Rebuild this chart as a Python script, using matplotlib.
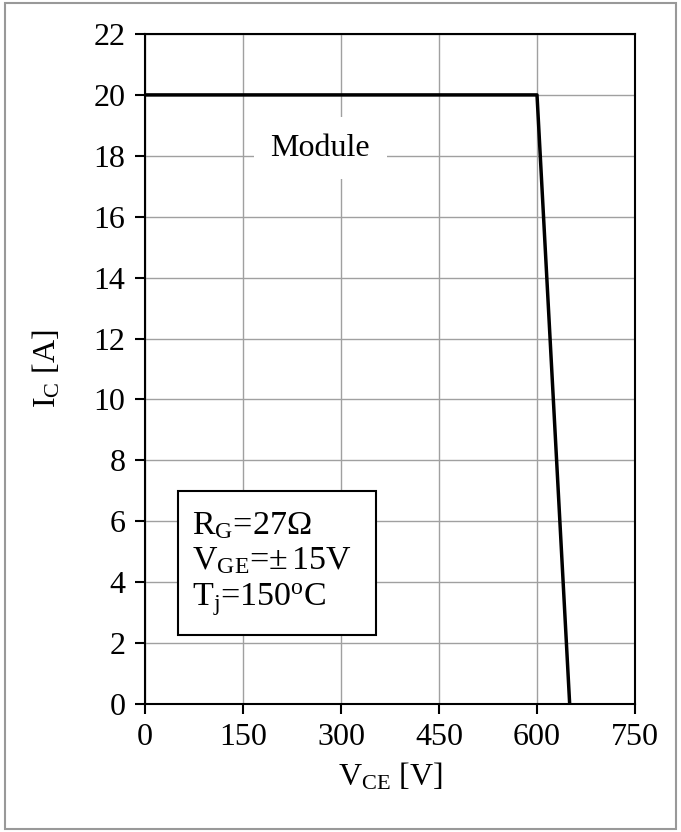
import matplotlib.pyplot as plt
from matplotlib.patches import Rectangle

plt.rcParams['font.family'] = ['Liberation Serif', 'DejaVu Serif']
plt.rcParams['mathtext.fontset'] = 'custom'
plt.rcParams['mathtext.rm'] = 'Liberation Serif'
plt.rcParams['mathtext.it'] = 'Liberation Serif:italic'

# RBSOA curve
vce = [0, 600, 650]
ic = [20, 20, 0]
xticks = [0, 150, 300, 450, 600, 750]
yticks = list(range(0, 23, 2))

fig = plt.figure(figsize=(6.81, 8.32), dpi=100)
ax = fig.add_axes([145 / 681, 1 - 704 / 832, 490 / 681, 670 / 832])

ax.plot(vce, ic, color='black', lw=2.5, zorder=3)
ax.set_xlim(0, 750)
ax.set_ylim(0, 22)
ax.set_xticks(xticks)
ax.set_yticks(yticks)
ax.grid(True, color='#a0a0a0', lw=1)
ax.set_axisbelow(True)
for s in ax.spines.values():
    s.set_linewidth(1.5)
ax.tick_params(labelsize=23, length=7, width=1.5, direction='out', pad=7)

ax.set_xlabel(r'V$_\mathrm{CE}$ [V]', fontsize=23, labelpad=6)
ax.set_ylabel(r'I$_\mathrm{C}$ [A]', fontsize=23, labelpad=22)

ax.text(268, 18.25, 'Module', fontsize=23, ha='center', va='center',
        bbox=dict(facecolor='white', edgecolor='none', pad=12), zorder=4)

ax.add_patch(Rectangle((50, 2.25), 303, 4.73, facecolor='white', edgecolor='black', lw=1.5, zorder=4))
ax.text(72, 4.6,
        r'R$_\mathrm{G}$=27$\Omega$' + '\n' + r'V$_\mathrm{GE}$=$\pm\,$15V' + '\n' + r'T$_\mathrm{j}$=150$^\mathrm{o}$C',
        fontsize=24.5, ha='left', va='center', linespacing=1.2, zorder=5)

fig.patches.append(Rectangle((5 / 681, 3 / 832), 671 / 681, 826 / 832, transform=fig.transFigure,
                             fill=False, edgecolor='#999999', lw=1.5))

fig.savefig('out.png', dpi=100)
